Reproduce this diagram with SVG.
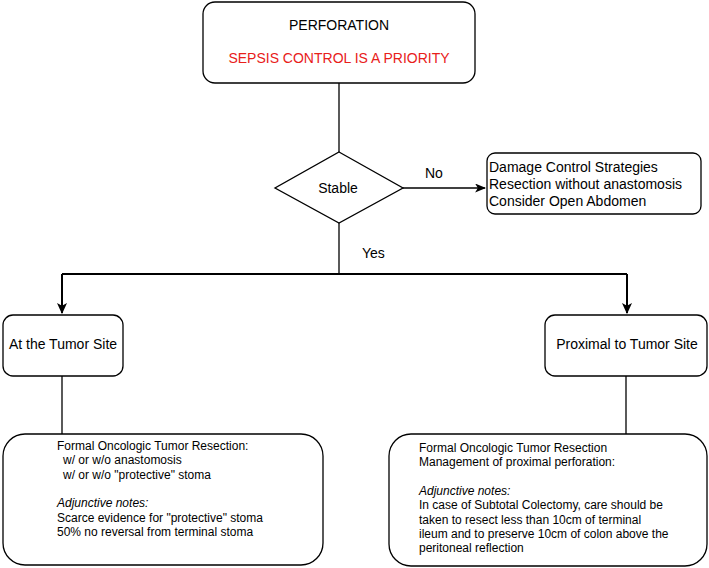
<svg xmlns="http://www.w3.org/2000/svg" width="709" height="568" viewBox="0 0 709 568">
<style>
  text { font-family: "Liberation Sans", Arial, Helvetica, sans-serif; fill: #000; }
  .box { fill: #fff; stroke: #000; stroke-width: 1.3; }
  .t14 { font-size: 14px; }
  .t12 { font-size: 12px; }
  .red { fill: #e8201a; }
  .thin { stroke: #000; stroke-width: 1.3; fill: none; }
  .thick { stroke: #000; stroke-width: 2; fill: none; }
</style>
<defs>
  <marker id="arr" viewBox="0 0 10 10" refX="9" refY="5" markerWidth="11" markerHeight="9" markerUnits="userSpaceOnUse" orient="auto" preserveAspectRatio="none">
    <path d="M0,0 L10,5 L0,10 L2.5,5 z" fill="#000"/>
  </marker>
  <marker id="arr2" viewBox="0 0 10 10" refX="9" refY="5" markerWidth="11" markerHeight="10" markerUnits="userSpaceOnUse" orient="auto" preserveAspectRatio="none">
    <path d="M0,0 L10,5 L0,10 L2.5,5 z" fill="#000"/>
  </marker>
</defs>
<g id="connectors">
  <path class="thin" d="M339,83 V152"/>
  <path class="thin" d="M403,188 H485" marker-end="url(#arr)"/>
  <path class="thin" d="M339,223 V274"/>
  <path class="thick" d="M62,274 H627"/>
  <path class="thick" d="M62,274 V313" marker-end="url(#arr2)"/>
  <path class="thick" d="M627,274 V313" marker-end="url(#arr2)"/>
  <path class="thin" d="M62,376 V434"/>
  <path class="thin" d="M626,376 V434"/>
  <text class="t14" x="425" y="178">No</text>
  <text class="t14" x="362" y="258">Yes</text>
</g>
<g id="perforation">
  <rect class="box" x="203" y="2" width="272" height="81" rx="12"/>
  <text class="t14" x="339" y="30" text-anchor="middle">PERFORATION</text>
  <text class="t14 red" x="339" y="63" text-anchor="middle">SEPSIS CONTROL IS A PRIORITY</text>
</g>
<g id="stable">
  <polygon class="box" points="339,152 403,188 339,223 275,188"/>
  <text class="t14" x="338" y="193" text-anchor="middle">Stable</text>
</g>
<g id="damage-control">
  <rect class="box" x="487" y="153" width="214" height="61" rx="8"/>
  <text class="t14" x="489" y="172">Damage Control Strategies</text>
  <text class="t14" x="489" y="189">Resection without anastomosis</text>
  <text class="t14" x="489" y="206">Consider Open Abdomen</text>
</g>
<g id="at-tumor-site">
  <rect class="box" x="3" y="315" width="120" height="61" rx="10"/>
  <text class="t14" x="63" y="349" text-anchor="middle">At the Tumor Site</text>
</g>
<g id="proximal-tumor-site">
  <rect class="box" x="545" y="315" width="162" height="61" rx="10"/>
  <text class="t14" x="627" y="349" text-anchor="middle">Proximal to Tumor Site</text>
</g>
<g id="left-details">
  <rect class="box" x="3" y="434" width="320" height="131" rx="22"/>
  <text class="t12" x="57" y="450">Formal Oncologic Tumor Resection:</text>
  <text class="t12" x="63" y="464.3">w/ or w/o anastomosis</text>
  <text class="t12" x="63" y="478.6">w/ or w/o "protective" stoma</text>
  <text class="t12" x="57" y="507.2" font-style="italic">Adjunctive notes:</text>
  <text class="t12" x="57" y="521.5">Scarce evidence for "protective" stoma</text>
  <text class="t12" x="57" y="535.8">50% no reversal from terminal stoma</text>
</g>
<g id="right-details">
  <rect class="box" x="389" y="434" width="318" height="132" rx="22"/>
  <text class="t12" x="419" y="452">Formal Oncologic Tumor Resection</text>
  <text class="t12" x="419" y="466.3">Management of proximal perforation:</text>
  <text class="t12" x="419" y="494.9" font-style="italic">Adjunctive notes:</text>
  <text class="t12" x="419" y="509.2">In case of Subtotal Colectomy, care should be</text>
  <text class="t12" x="419" y="523.5">taken to resect less than 10cm of terminal</text>
  <text class="t12" x="419" y="537.8">ileum and to preserve 10cm of colon above the</text>
  <text class="t12" x="419" y="552.1">peritoneal reflection</text>
</g>
</svg>
